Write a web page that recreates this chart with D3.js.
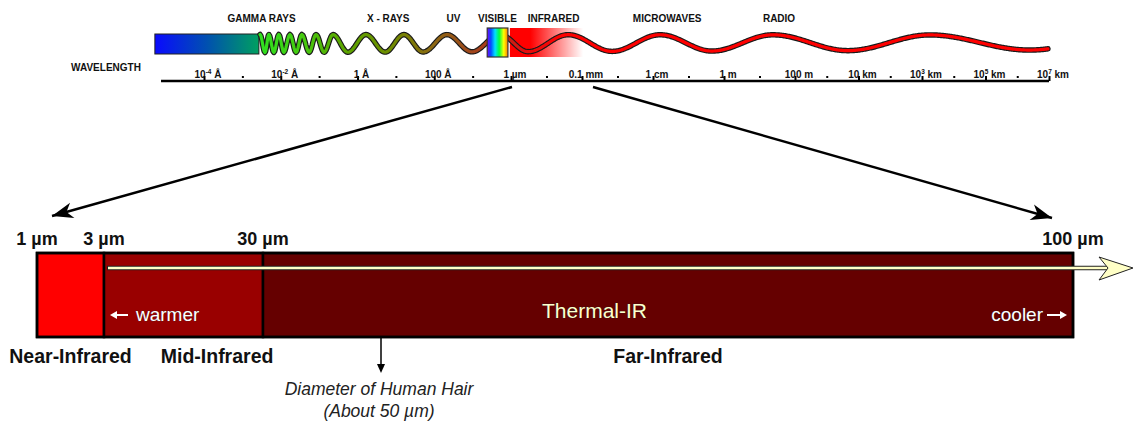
<!DOCTYPE html>
<html>
<head>
<meta charset="utf-8">
<script src="https://cdn.jsdelivr.net/npm/d3@7"></script>
<style>
  body { margin: 0; background: #fff; }
  svg { display: block; font-family: "Liberation Sans", Arial, sans-serif; }
</style>
</head>
<body>
<div id="chart"></div>
<script>
// Infrared spectrum diagram

// ---- Top strip: wavelengths as log10(metres)
const tickExp = [-14, -12, -10, -8, -6, -4, -2, 0, 2, 4, 6, 8, 10]
const tickLabels = ['10^-4 Å', '10^-2 Å', '1 Å', '100 Å', '1 µm', '0.1 mm', '1 cm', '1 m', '100 m', '10 km', '10^3 km', '10^5 km', '10^7 km']
const minorExp = [-13, -11, -9, -7, -5, -3, -1, 1, 3, 5, 7, 9]
const axisStart = -15.12
const bandNames = ['GAMMA RAYS', 'X - RAYS', 'UV', 'VISIBLE', 'INFRARED', 'MICROWAVES', 'RADIO']
const bandCenters = [-12.5, -9.2, -7.5, -6.35, -4.8, -1.6, 1.55]
const gammaBar = [-15.28, -12.57]
const visibleBox = [-6.62, -6.08]
const infraredGlow = [-6.03, -3.97]
// crests and troughs of the drawn wave, alternating, first one a crest
const waveExtrema = [-12.54, -12.41, -12.31, -12.18, -12.05, -11.92, -11.76, -11.60, -11.45, -11.26,
  -11.08, -10.87, -10.64, -10.25, -9.78, -9.28, -8.79, -8.29, -7.67, -7.02,
  -6.29, -5.52, -4.39, -3.15, -1.80, -0.34, 1.38, 3.67, 6.25, 9.40]
const waveEnd = 9.97

// ---- Bottom bar: infrared bands in micrometres
const irBands = ['Near-Infrared', 'Mid-Infrared', 'Far-Infrared']
const irFrom = [1, 3, 30]
const irTo = [3, 30, 100]
const edgeValues = [1, 3, 30, 100]
const edgeLabels = ['1 µm', '3 µm', '30 µm', '100 µm']
const thermalFrom = 3
const hairValue = 50
const hairText = ['Diameter of Human Hair', '(About 50 µm)']

var width = 1143
var height = 421

var svg = d3.select('#chart')
  .append('svg')
  .attr('width', width)
  .attr('height', height)

// the drawing is not to scale, so both scales are piecewise
const xTop = d3.scaleLinear().domain([-14, -6, 2, 10]).range([204, 511, 795, 1049])
const xIR = d3.scaleLinear().domain([1, 3, 30, 50, 100]).range([37, 104, 263, 381, 1073])

var defs = svg.append('defs')

function gradient(id, stops, x1, x2) {
  var g = defs.append('linearGradient').attr('id', id)
  if (x1 !== undefined) {
    g.attr('gradientUnits', 'userSpaceOnUse').attr('x1', x1).attr('x2', x2).attr('y1', 0).attr('y2', 0)
  }
  stops.forEach(s => g.append('stop').attr('offset', s[0]).attr('stop-color', s[1]).attr('stop-opacity', s[2] === undefined ? 1 : s[2]))
}

gradient('gammaGrad', [[0, '#0a0aff'], [0.5, '#0050b0'], [1, '#00a060']])
gradient('visGrad', [[0, '#7a00ff'], [0.18, '#0050ff'], [0.38, '#00e0ff'], [0.58, '#00ff40'], [0.8, '#ffff00'], [1, '#ff7a00']])
gradient('irGrad', [[0, '#ff0000'], [0.28, '#ff0000'], [1, '#ff0000', 0]])

var w0 = xTop(waveExtrema[0]), w1 = xTop(waveEnd)
var off = x => (x - w0) / (w1 - w0)
gradient('waveGrad', [
  [0, '#30e020'], [off(300), '#44cc10'], [off(340), '#5aa800'], [off(390), '#6e8c00'],
  [off(430), '#8a6a10'], [off(470), '#a0481c'], [off(500), '#b03018'], [off(520), '#e01010'], [off(560), '#ff0000'], [1, '#ff0000']
], w0, w1)

// ---- top strip shapes
var strip = svg.append('g')

strip.append('rect')
  .attr('x', xTop(gammaBar[0]))
  .attr('y', 34)
  .attr('width', xTop(gammaBar[1]) - xTop(gammaBar[0]))
  .attr('height', 20)
  .attr('fill', 'url(#gammaGrad)')
  .attr('stroke', '#222')
  .attr('stroke-width', 1)

strip.append('rect')
  .attr('x', xTop(infraredGlow[0]))
  .attr('y', 28)
  .attr('width', xTop(infraredGlow[1]) - xTop(infraredGlow[0]))
  .attr('height', 29)
  .attr('fill', 'url(#irGrad)')

// wave through the crests / troughs
var ampScale = d3.scaleLinear().domain([w0, w1]).range([9, 7.5])
var midScale = d3.scaleLinear().domain([w0, w1]).range([43.5, 42.5])
var pts = []
var ext = waveExtrema.map(xTop)
for (let i = 0; i < ext.length - 1; i++) {
  const a = ext[i], b = ext[i + 1], sgn = i % 2 === 0 ? 1 : -1
  const n = Math.max(6, Math.round(b - a))
  for (let k = 0; k < n; k++) {
    const t = k / n, x = a + (b - a) * t
    pts.push([x, midScale(x) - sgn * ampScale(x) * Math.cos(Math.PI * t)])
  }
}
{
  const last = ext[ext.length - 1], gap = last - ext[ext.length - 2]
  const sgn = (ext.length - 1) % 2 === 0 ? 1 : -1
  for (let x = last; x <= w1; x += 1) {
    const t = (x - last) / gap
    pts.push([x, midScale(x) - sgn * ampScale(x) * Math.cos(Math.PI * t)])
  }
}
var waveLine = d3.line()
strip.append('path').attr('d', waveLine(pts)).attr('fill', 'none')
  .attr('stroke', '#1a1a1a').attr('stroke-width', 5.5).attr('stroke-linejoin', 'round').attr('stroke-linecap', 'round')
strip.append('path').attr('d', waveLine(pts)).attr('fill', 'none')
  .attr('stroke', 'url(#waveGrad)').attr('stroke-width', 3.2).attr('stroke-linejoin', 'round').attr('stroke-linecap', 'round')

strip.append('rect')
  .attr('x', xTop(visibleBox[0]))
  .attr('y', 28)
  .attr('width', xTop(visibleBox[1]) - xTop(visibleBox[0]))
  .attr('height', 29)
  .attr('fill', 'url(#visGrad)')
  .attr('stroke', '#333')
  .attr('stroke-width', 1.2)

strip.selectAll('text.band')
  .data(bandNames)
  .enter()
  .append('text')
  .attr('class', 'band')
  .attr('x', (d, i) => xTop(bandCenters[i]))
  .attr('y', 22)
  .attr('text-anchor', 'middle')
  .attr('font-size', 10)
  .attr('font-weight', 'bold')
  .attr('fill', '#111')
  .text(d => d)

// ---- wavelength axis
var axisY = 81
strip.append('line')
  .attr('x1', xTop(axisStart)).attr('x2', xTop(10))
  .attr('y1', axisY).attr('y2', axisY)
  .attr('stroke', '#000').attr('stroke-width', 2.5)

const majorAxis = d3.axisTop(xTop).tickValues(tickExp).tickSize(5).tickFormat('')
const minorAxis = d3.axisTop(xTop).tickValues(minorExp).tickSize(2).tickFormat('')
strip.append('g').attr('transform', `translate(0, ${axisY})`).call(majorAxis)
  .call(g => g.select('.domain').remove())
  .call(g => g.selectAll('line').attr('stroke', '#000').attr('stroke-width', 2))
strip.append('g').attr('transform', `translate(0, ${axisY - 3})`).call(minorAxis)
  .call(g => g.select('.domain').remove())
  .call(g => g.selectAll('line').attr('stroke', '#000').attr('stroke-width', 2))

strip.selectAll('text.tick-label')
  .data(tickLabels)
  .enter()
  .append('text')
  .attr('class', 'tick-label')
  .attr('x', (d, i) => xTop(tickExp[i]) + 4)
  .attr('y', 77.5)
  .attr('text-anchor', 'middle')
  .attr('font-size', 10)
  .attr('font-weight', 'bold')
  .attr('fill', '#111')
  .each(function (d) {
    var t = d3.select(this)
    var m = d.match(/^(\d+)\^(-?\d+)(.*)$/)
    if (m) {
      t.append('tspan').text(m[1])
      t.append('tspan').attr('font-size', 6.5).attr('dy', -4).text(m[2].replace('-', '‑'))
      t.append('tspan').attr('dy', 4).text(m[3])
    } else {
      t.text(d)
    }
  })

strip.append('text')
  .attr('x', 106).attr('y', 71)
  .attr('text-anchor', 'middle')
  .attr('font-size', 10)
  .attr('font-weight', 'bold')
  .attr('fill', '#111')
  .text('WAVELENGTH')

// ---- zoom arrows from the strip down to the infrared bar
defs.append('marker')
  .attr('id', 'bigHead')
  .attr('markerUnits', 'userSpaceOnUse')
  .attr('viewBox', '-22 -10 24 20')
  .attr('refX', 0).attr('refY', 0)
  .attr('markerWidth', 24).attr('markerHeight', 20)
  .attr('orient', 'auto')
  .append('path')
  .attr('d', 'M0,0 L-21,-8 L-15,0 L-21,8 Z')
  .attr('fill', '#000')

var zoomArrows = [
  { x1: xTop(-6) + 1, y1: 87, x2: xIR(irFrom[0]) + 15, y2: 216 },
  { x1: xTop(-4) + 11, y1: 87, x2: xIR(irTo[2]) - 21, y2: 218 }
]
svg.selectAll('line.zoom')
  .data(zoomArrows)
  .enter()
  .append('line')
  .attr('class', 'zoom')
  .attr('x1', d => d.x1).attr('y1', d => d.y1)
  .attr('x2', d => d.x2).attr('y2', d => d.y2)
  .attr('stroke', '#000')
  .attr('stroke-width', 2.5)
  .attr('marker-end', 'url(#bigHead)')

// ---- infrared bar
var barY = 253, barH = 84
var bandColor = d3.scaleOrdinal().domain(irBands).range(['#ff0000', '#990000', '#650000'])
var bottom = svg.append('g')

bottom.selectAll('rect.ir')
  .data(irBands)
  .enter()
  .append('rect')
  .attr('class', 'ir')
  .attr('x', (d, i) => xIR(irFrom[i]))
  .attr('y', barY)
  .attr('width', (d, i) => xIR(irTo[i]) - xIR(irFrom[i]))
  .attr('height', barH)
  .attr('fill', d => bandColor(d))
  .attr('stroke', '#000')
  .attr('stroke-width', 2.5)

bottom.append('rect')
  .attr('x', xIR(1)).attr('y', barY)
  .attr('width', xIR(100) - xIR(1)).attr('height', barH)
  .attr('fill', 'none').attr('stroke', '#000').attr('stroke-width', 2.5)

// thermal IR arrow
var thermalY = 268
var tipX = xIR(100) + 60
bottom.append('line')
  .attr('x1', xIR(thermalFrom) + 3).attr('x2', tipX - 26)
  .attr('y1', thermalY).attr('y2', thermalY)
  .attr('stroke', '#222').attr('stroke-width', 4.5)
bottom.append('line')
  .attr('x1', xIR(thermalFrom) + 4).attr('x2', tipX - 24)
  .attr('y1', thermalY).attr('y2', thermalY)
  .attr('stroke', '#ffffc6').attr('stroke-width', 2.4)
bottom.append('path')
  .attr('d', `M${tipX},${thermalY} L${tipX - 34},${thermalY - 11} L${tipX - 25},${thermalY} L${tipX - 34},${thermalY + 12} Z`)
  .attr('fill', '#ffffc6')
  .attr('stroke', '#222')
  .attr('stroke-width', 1)
  .attr('stroke-linejoin', 'miter')

bottom.append('text')
  .attr('x', (xIR(thermalFrom) + xIR(100)) / 2 + 6)
  .attr('y', 318)
  .attr('text-anchor', 'middle')
  .attr('font-size', 21)
  .attr('fill', '#ffffcc')
  .attr('stroke', '#222')
  .attr('stroke-width', 0.6)
  .attr('paint-order', 'stroke')
  .text('Thermal-IR')

// warmer / cooler hints
function smallArrow(x1, x2, y) {
  var dir = Math.sign(x2 - x1)
  bottom.append('line').attr('x1', x1).attr('x2', x2 - dir * 3).attr('y1', y).attr('y2', y)
    .attr('stroke', '#fff').attr('stroke-width', 2)
  bottom.append('path')
    .attr('d', `M${x2},${y} L${x2 - dir * 7},${y - 4} L${x2 - dir * 7},${y + 4} Z`)
    .attr('fill', '#fff')
}
smallArrow(xIR(thermalFrom) + 24, xIR(thermalFrom) + 6, 315)
bottom.append('text')
  .attr('x', xIR(thermalFrom) + 32)
  .attr('y', 321)
  .attr('font-size', 19)
  .attr('fill', '#fff')
  .attr('stroke', '#333')
  .attr('stroke-width', 0.5)
  .attr('paint-order', 'stroke')
  .text('warmer')
smallArrow(xIR(100) - 26, xIR(100) - 6, 315)
bottom.append('text')
  .attr('x', xIR(100) - 30)
  .attr('y', 321)
  .attr('text-anchor', 'end')
  .attr('font-size', 19)
  .attr('fill', '#fff')
  .attr('stroke', '#333')
  .attr('stroke-width', 0.5)
  .attr('paint-order', 'stroke')
  .text('cooler')

// boundary labels above the bar
bottom.selectAll('text.edge')
  .data(edgeLabels)
  .enter()
  .append('text')
  .attr('class', 'edge')
  .attr('y', 245)
  .attr('text-anchor', 'middle')
  .attr('font-size', 18)
  .attr('font-weight', 'bold')
  .attr('fill', '#111')
  .text(d => d)
  .attr('x', function (d, i) {
    var w = this.getComputedTextLength()
    return Math.min(xIR(edgeValues[i]), width - w / 2 - 2)
  })

// band names below the bar, pushed right if they would collide
var prevEnd = -Infinity
bottom.selectAll('text.irname')
  .data(irBands)
  .enter()
  .append('text')
  .attr('class', 'irname')
  .attr('y', 363)
  .attr('text-anchor', 'middle')
  .attr('font-size', 19.5)
  .attr('font-weight', 'bold')
  .attr('fill', '#111')
  .text(d => d)
  .attr('x', function (d, i) {
    var w = this.getComputedTextLength()
    var cx = Math.max((xIR(irFrom[i]) + xIR(irTo[i])) / 2, prevEnd + 29 + w / 2)
    prevEnd = cx + w / 2
    return cx
  })

// human hair marker
var hx = xIR(hairValue)
bottom.append('line')
  .attr('x1', hx).attr('x2', hx)
  .attr('y1', barY + barH).attr('y2', 366)
  .attr('stroke', '#000').attr('stroke-width', 1.5)
bottom.append('path')
  .attr('d', `M${hx},373 L${hx - 4},364 L${hx + 4},364 Z`)
  .attr('fill', '#000')

bottom.selectAll('text.hair')
  .data(hairText)
  .enter()
  .append('text')
  .attr('class', 'hair')
  .attr('x', hx - 2)
  .attr('y', (d, i) => 395 + i * 22)
  .attr('text-anchor', 'middle')
  .attr('font-size', 17.5)
  .attr('font-style', 'italic')
  .attr('fill', '#222')
  .text(d => d)
</script>
</body>
</html>
